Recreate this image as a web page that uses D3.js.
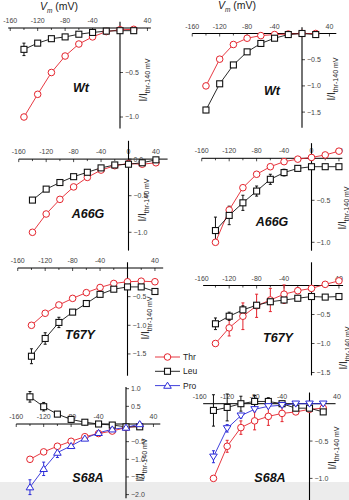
<!DOCTYPE html>
<html><head><meta charset="utf-8">
<script src="https://cdn.jsdelivr.net/npm/d3@7"></script>
<style>body{margin:0;background:#fff}svg{display:block}text{font-family:"Liberation Sans",Arial,sans-serif}</style>
</head><body><svg id="c" width="349" height="500"></svg>
<script>
// ---------- DATA ----------
const voltages = [-140,-120,-100,-80,-60,-40,-20,0,20,40];
const xTickLabels = [-160,-120,-80,-40,40];
const seriesNames = ["Thr","Leu","Pro"];

// Wt (left)
const wtA_thr = [-1.0,-0.745,-0.50,-0.315,-0.18,-0.10,-0.04,-0.02,-0.015];
const wtA_leu = [-0.24,-0.17,-0.12,-0.10,-0.07,-0.05,-0.035,-0.03,-0.03];
const wtA_leuErr = [0.07,0.02,0.02,0.02,0.01,0.01,0.01,0.01,0.01];
// Wt (right)
const wtB_thr = [-1.0,-0.49,-0.21,-0.09,-0.04,-0.02,-0.01,0.0,0.0];
const wtB_leu = [-1.46,-0.96,-0.60,-0.35,-0.19,-0.09,-0.02,0.0,-0.02];
const wtB_leuErr = [0.05,0.03,0.03,0.02,0.02,0.01,0.01,0.01,0.01];
// A66G (left)
const a66gA_thr = [-1.0,-0.75,-0.55,-0.38,-0.25,-0.15,-0.09,-0.06,-0.07,-0.05];
const a66gA_leu = [-0.56,-0.41,-0.32,-0.24,-0.18,-0.12,-0.08,-0.07,-0.05,-0.01];
const a66gA_leuErr = [0.02,0.02,0.02,0.02,0.02,0.02,0.02,0.02,0.02,0.02];
// A66G (right)
const a66gB_thr = [-1.0,-0.615,-0.35,-0.19,-0.10,-0.04,-0.01,0.01,0.04,0.085];
const a66gB_thrErr = [0.02,0.03,0.02,0.02,0.01,0.01,0.01,0.01,0.01,0.01];
const a66gB_leu = [-0.86,-0.68,-0.53,-0.39,-0.25,-0.17,-0.12,-0.10,-0.10,-0.10];
const a66gB_leuErr = [0.16,0.11,0.09,0.06,0.06,0.04,0.02,0.02,0.02,0.02];
// T67Y (left)
const t67yA_thr = [-1.0,-0.79,-0.645,-0.53,-0.43,-0.34,-0.27,-0.24,-0.23,-0.24];
const t67yA_leu = [-1.54,-1.23,-0.95,-0.77,-0.62,-0.46,-0.37,-0.33,-0.33,-0.41];
const t67yA_leuErr = [0.13,0.10,0.09,0.04,0.03,0.03,0.02,0.02,0.02,0.04];
// T67Y (right)
const t67yB_thr = [-1.0,-0.73,-0.53,-0.35,-0.25,-0.15,-0.09,-0.05,0.02,0.08];
const t67yB_thrErr = [0.02,0.14,0.23,0.20,0.20,0.16,0.05,0.02,0.02,0.02];
const t67yB_leu = [-0.66,-0.53,-0.42,-0.34,-0.28,-0.25,-0.22,-0.19,-0.20,-0.19];
const t67yB_leuErr = [0.10,0.07,0.07,0.04,0.04,0.04,0.03,0.02,0.02,0.02];
// S68A (left)
const s68aA_thr = [-1.0,-0.79,-0.63,-0.49,-0.36,-0.27,-0.20,-0.10,-0.06];
const s68aA_leu = [0.77,0.49,0.28,0.13,0.05,0.0,-0.03,-0.08,-0.08];
const s68aA_leuErr = [0.15,0.12,0.06,0.04,0.03,0.03,0.03,0.03,0.03];
const s68aA_pro = [-1.79,-1.27,-0.81,-0.62,-0.41,-0.25,-0.15,-0.10,0.0];
const s68aA_proErr = [0.21,0.19,0.14,0.06,0.04,0.03,0.03,0.03,0.05];
// S68A (right)
const s68aB_thr = [-1.0,-0.57,-0.32,-0.23,-0.17,-0.13,-0.11,-0.075,-0.06];
const s68aB_thrErr = [0.02,0.08,0.09,0.12,0.12,0.11,0.03,0.02,0.02];
const s68aB_leu = [-0.09,-0.05,0.0,0.03,0.03,0.0,-0.06,-0.06,-0.11];
const s68aB_leuErr = [0.21,0.18,0.10,0.08,0.05,0.03,0.03,0.03,0.03];
const s68aB_pro = [-0.71,-0.33,-0.16,-0.075,-0.035,-0.02,0.0,0.0,0.0];
const s68aB_proErr = [0.08,0.05,0.03,0.02,0.02,0.02,0.02,0.02,0.02];

// ---------- LAYOUT ----------
const panels = [
 {label:"Wt", thr:[wtA_thr,null], leu:[wtA_leu,wtA_leuErr],
  L:{x0:120,y0:28,ky:89,xd:[-163,45],yd:[0.07,-1.13],yt:[-0.5,-1.0],zeroLbl:false,lab:[81,88],yl:[143,80],tri:"up"}},
 {label:"Wt", thr:[wtB_thr,null], leu:[wtB_leu,wtB_leuErr],
  L:{x0:302,y0:33.5,ky:52.4,xd:[-160,50],yd:[0.12,-1.8],yt:[-0.5,-1.0,-1.5],zeroLbl:false,lab:[272,91],yl:[331,79],tri:"up"}},
 {label:"A66G", thr:[a66gA_thr,null], leu:[a66gA_leu,a66gA_leuErr],
  L:{x0:128.5,y0:159.1,ky:73.2,xd:[-160,57],yd:[0.25,-1.25],yt:[0.0,-0.5,-1.0],zeroLbl:true,lab:[88,214],yl:[142,200],tri:"up"}},
 {label:"A66G", thr:[a66gB_thr,a66gB_thrErr], leu:[a66gB_leu,a66gB_leuErr],
  L:{x0:311.5,y0:158.3,ky:84,xd:[-160,45],yd:[0.18,-1.1],yt:[-0.5,-1.0],zeroLbl:true,lab:[272,222],yl:[342,208],tri:"up"}},
 {label:"T67Y", thr:[t67yA_thr,null], leu:[t67yA_leu,t67yA_leuErr],
  L:{x0:127.5,y0:268,ky:57.3,xd:[-160,52],yd:[0.1,-1.88],yt:[-0.5,-1.0,-1.5],zeroLbl:false,lab:[80,335],yl:[145,318],tri:"up"}},
 {label:"T67Y", thr:[t67yB_thr,t67yB_thrErr], leu:[t67yB_leu,t67yB_leuErr],
  L:{x0:311.5,y0:285.5,ky:58,xd:[-158,46],yd:[0.4,-1.55],yt:[-0.5,-1.0,-1.5],zeroLbl:false,lab:[278,338],yl:[343,348],tri:"up"}},
 {label:"S68A", thr:[s68aA_thr,null], leu:[s68aA_leu,s68aA_leuErr], pro:[s68aA_pro,s68aA_proErr],
  L:{x0:126,y0:424,ky:35.3,xd:[-160,50],yd:[1.05,-2.1],yt:[1.0,0.5,-0.5,-1.0,-1.5,-2.0],zeroLbl:false,lab:[88,478],yl:[140,460],tri:"up"}},
 {label:"S68A", thr:[s68aB_thr,s68aB_thrErr], leu:[s68aB_leu,s68aB_leuErr], pro:[s68aB_pro,s68aB_proErr],
  L:{x0:309.5,y0:403.7,ky:74.7,xd:[-155,38],yd:[0.15,-1.3],yt:[-0.5,-1.0],zeroLbl:false,lab:[270,478],yl:[332,448],tri:"down"}}
];
const KX = 0.686;
const COL = {Thr:"#e4232c", Leu:"#111111", Pro:"#2b2bd8"};
const TICKCOL = "#444";

const svg = d3.select("#c");
svg.append("rect").attr("x",0).attr("y",482).attr("width",349).attr("height",18).attr("fill","#ececec");

function marker(g, kind, x, y, tri){
  const c = COL[kind];
  if(kind==="Thr"){
    g.append("circle").attr("cx",x).attr("cy",y).attr("r",3.3).attr("fill","#fff").attr("stroke",c).attr("stroke-width",1);
  } else if(kind==="Leu"){
    g.append("rect").attr("x",x-3).attr("y",y-3).attr("width",6).attr("height",6).attr("fill","#fff").attr("stroke",c).attr("stroke-width",1.1);
  } else {
    const s = 3.8;
    const pts = tri==="down" ? [[x-s,y-s*0.7],[x+s,y-s*0.7],[x,y+s*0.9]] : [[x-s,y+s*0.7],[x+s,y+s*0.7],[x,y-s*0.9]];
    g.append("path").attr("d","M"+pts.map(p=>p.join(",")).join("L")+"Z").attr("fill","#fff").attr("stroke",c).attr("stroke-width",1);
  }
}

panels.forEach(p=>{
  const L = p.L;
  const x = d3.scaleLinear().domain([0,40]).range([L.x0, L.x0+40*KX]);
  const y = d3.scaleLinear().domain([0,-1]).range([L.y0, L.y0+L.ky]);
  const g = svg.append("g");
  const ax = y(0), ay = x(0);
  // x axis
  g.append("line").attr("x1",x(L.xd[0])).attr("x2",x(L.xd[1])).attr("y1",ax).attr("y2",ax).attr("stroke","#000").attr("stroke-width",1);
  d3.range(-160,L.xd[1]+1,20).filter(v=>v>=L.xd[0]-1).forEach(v=>{
    g.append("line").attr("x1",x(v)).attr("x2",x(v)).attr("y1",ax).attr("y2",ax+(v%40===0?3:2)).attr("stroke","#000").attr("stroke-width",0.7);
  });
  const xl = xTickLabels.concat(L.zeroLbl?[0]:[]);
  xl.forEach(v=>{
    g.append("text").attr("x",x(v)).attr("y",ax-5).attr("text-anchor","middle").attr("font-size",7).attr("fill",TICKCOL).text(v);
  });
  // y axis
  g.append("line").attr("x1",ay).attr("x2",ay).attr("y1",y(L.yd[0])).attr("y2",y(L.yd[1])).attr("stroke","#000").attr("stroke-width",1.1);
  L.yt.forEach(v=>{
    g.append("line").attr("x1",ay).attr("x2",ay+3).attr("y1",y(v)).attr("y2",y(v)).attr("stroke","#000").attr("stroke-width",0.7);
    g.append("text").attr("x",ay+5).attr("y",y(v)).attr("dy","0.35em").attr("font-size",7).attr("fill",TICKCOL).text(d3.format(".1f")(v));
  });
  // y label
  const t = g.append("text").attr("transform",`translate(${L.yl[0]},${L.yl[1]}) rotate(-90)`).attr("text-anchor","middle").attr("dy","0.35em").attr("font-size",10).attr("fill","#222");
  t.append("tspan").text("I/I");
  t.append("tspan").attr("font-size",7).attr("dy","3").text("thr-140 mV");
  // panel label
  g.append("text").attr("x",L.lab[0]).attr("y",L.lab[1]).attr("dy","0.35em").attr("text-anchor","middle").attr("font-size",12.5).attr("font-weight","bold").attr("font-style","italic").attr("fill","#111").text(p.label);
  // series
  const list = [["Thr",p.thr],["Leu",p.leu]].concat(p.pro?[["Pro",p.pro]]:[]);
  const line = d3.line().x(d=>x(d[0])).y(d=>y(d[1]));
  list.forEach(([k,[vals,errs]])=>{
    const pts = vals.map((v,i)=>[voltages[i],v,errs?errs[i]:0]);
    g.append("path").attr("d",line(pts)).attr("fill","none").attr("stroke",COL[k]).attr("stroke-width",0.9);
    pts.forEach(d=>{
      if(d[2]>0){
        const X=x(d[0]);
        g.append("line").attr("x1",X).attr("x2",X).attr("y1",y(d[1]-d[2])).attr("y2",y(d[1]+d[2])).attr("stroke",COL[k]).attr("stroke-width",1);
        [d[1]-d[2],d[1]+d[2]].forEach(e=>g.append("line").attr("x1",X-1.5).attr("x2",X+1.5).attr("y1",y(e)).attr("y2",y(e)).attr("stroke",COL[k]).attr("stroke-width",1));
      }
    });
  });
  list.forEach(([k,[vals]])=>{
    vals.forEach((v,i)=>marker(g,k,x(voltages[i]),y(v),L.tri));
  });
});

// titles
[[40,10],[218,9]].forEach(([tx,ty])=>{
  const t = svg.append("text").attr("x",tx).attr("y",ty).attr("font-size",10.5).attr("fill","#222");
  t.append("tspan").attr("font-style","italic").text("V");
  t.append("tspan").attr("font-size",6.5).attr("font-style","italic").attr("dy",2.5).text("m");
  t.append("tspan").attr("dy",-2.5).text(" (mV)");
});

// legend
const lg = svg.append("g");
seriesNames.forEach((k,i)=>{
  const ly = 357 + i*14.3;
  lg.append("line").attr("x1",155).attr("x2",180).attr("y1",ly).attr("y2",ly).attr("stroke",COL[k]).attr("stroke-width",0.9);
  marker(lg,k,167.5,ly,"up");
  lg.append("text").attr("x",183).attr("y",ly).attr("dy","0.35em").attr("font-size",8.5).attr("fill","#222").text(k);
});
</script></body></html>
